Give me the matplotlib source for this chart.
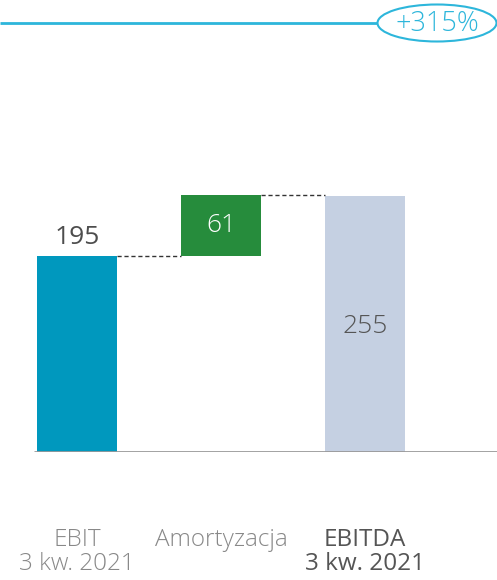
import numpy as np
import matplotlib
matplotlib.use("Agg")
import matplotlib.pyplot as plt
from matplotlib.patches import Ellipse
from matplotlib.transforms import blended_transform_factory

# -------------------------------
# DATA
# -------------------------------
categories_line1 = ["EBIT", "Amortyzacja", "EBITDA"]
categories_line2 = ["3 kw. 2021", "", "3 kw. 2021"]
ebit = 195
amort = 61
ebitda = 255
change_label = "+315%"

C_EBIT = "#0098BE"
C_AMORT = "#268C3C"
C_EBITDA = "#C5D0E2"
C_LINE = "#2DB6DB"
C_AXIS = "#999999"

plt.rcParams["font.family"] = ["Open Sans", "DejaVu Sans"]

W, H = 497, 580
fig = plt.figure(figsize=(W / 100, H / 100), dpi=100)
base_px = 452
ax = fig.add_axes([0, (H - base_px) / H, 1, base_px / H])
ax.set_xlim(-77 / 144, (W - 77) / 144)
ax.set_ylim(0, base_px / 1.005)
ax.axis("off")

x = np.arange(3)
bw = 80 / 144

ax.bar(x[0], ebit, width=bw, color=C_EBIT)
ax.bar(x[1], amort, bottom=ebit, width=bw, color=C_AMORT)
ax.bar(x[2], ebitda, width=bw, color=C_EBITDA)

# connectors
ax.plot([x[0] + bw / 2, x[1] - bw / 2], [ebit, ebit], ls="--", color="#333333", lw=1, dashes=(3, 2))
ax.plot([x[1] + bw / 2, x[2] - bw / 2], [ebit + amort, ebit + amort], ls="--", color="#333333", lw=1, dashes=(3, 2))

# baseline
ax.plot([(34 - 77) / 144, (W - 77) / 144], [0, 0], color=C_AXIS, lw=2, solid_capstyle="butt")

# value labels
ax.text(x[0], ebit + 6, str(ebit), ha="center", va="bottom", fontsize=19, color="#4d4d4d")
ax.text(x[1], ebit + amort / 2, str(amort), ha="center", va="center", fontsize=19, color="white", fontweight="light")
ax.text(x[2], ebitda / 2 - 3, str(ebitda), ha="center", va="center", fontsize=19, color="#555555", fontweight="light")

# top growth marker
y_top = (base_px - 23) / 1.005
ax.plot([-77 / 144, (377 - 77) / 144], [y_top, y_top], color=C_LINE, lw=2, solid_capstyle="butt")
ax.add_patch(Ellipse(((437 - 77) / 144, y_top), 119 / 144, 37 / 1.005, fill=False, edgecolor=C_LINE, lw=1.5))
ax.text((437 - 77) / 144, y_top - 1, change_label, ha="center", va="center", fontsize=19.5, color=C_LINE,
        fontweight="light")

# category labels
tr = blended_transform_factory(ax.transData, fig.transFigure)
for i in range(3):
    bold = i == 2
    col = "#555555" if bold else "#888888"
    fw = "normal" if bold else "light"
    ax.text(x[i], 1 - 540 / H, categories_line1[i], transform=tr, ha="center", va="center",
            fontsize=17.5, color=col, fontweight=fw)
    if categories_line2[i]:
        ax.text(x[i], 1 - 564 / H, categories_line2[i], transform=tr, ha="center", va="center",
                fontsize=17.5, color=col, fontweight=fw)

fig.savefig("out.png", dpi=100)
